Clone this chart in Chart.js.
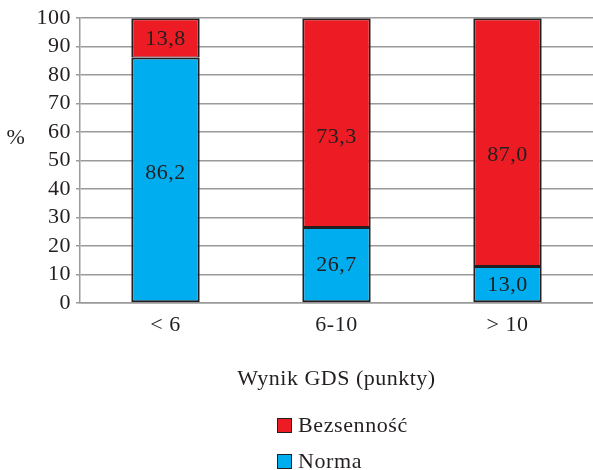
<!DOCTYPE html>
<html>
<head>
<meta charset="utf-8">
<script src="https://cdn.jsdelivr.net/npm/chart.js@4.4.1/dist/chart.umd.min.js"></script>
<style>
  html, body { margin: 0; padding: 0; background: #fff; }
  #wrap { position: relative; width: 593px; height: 470px; }
  #legend { position: absolute; left: 277px; top: 407px; font-family: "Liberation Serif", "DejaVu Serif", serif; font-size: 22px; letter-spacing: 0.6px; color: #231f20; }
  .item { display: flex; align-items: center; height: 36px; }
  .box { width: 13px; height: 13px; border: 1px solid #231f20; margin-right: 6px; }
</style>
</head>
<body>
<div id="wrap">
  <canvas id="c" width="593" height="470"></canvas>
  <div id="legend"></div>
</div>
<script>
const categories = ['< 6', '6-10', '> 10'];
const normaValues = [86.2, 26.7, 13.0];
const bezsennoscValues = [13.8, 73.3, 87.0];
const yTicks = [0, 10, 20, 30, 40, 50, 60, 70, 80, 90, 100];

const FONT = '"Liberation Serif", "DejaVu Serif", serif';
const TEXT = '#231f20';
const RED = '#ed1c24';
const BLUE = '#00aeef';
const SIZE = 22;

// Slightly open letter spacing for all canvas text
const spacing = {
  id: 'spacing',
  beforeLayout(chart) { chart.ctx.letterSpacing = '0.5px'; },
  beforeDraw(chart) { chart.ctx.letterSpacing = '0.5px'; }
};

// Numeric value printed inside each bar segment, decimal comma.
// Placement within the segment: 0 = bottom edge, 1 = top edge.
const valueLabels = {
  id: 'valueLabels',
  afterDatasetsDraw(chart, args, opts) {
    const ctx = chart.ctx;
    ctx.save();
    ctx.font = SIZE + 'px ' + FONT;
    ctx.fillStyle = TEXT;
    ctx.textAlign = 'center';
    ctx.textBaseline = 'middle';
    chart.data.datasets.forEach((ds, i) => {
      chart.getDatasetMeta(i).data.forEach((bar, j) => {
        const p = bar.getProps(['x', 'y', 'base'], true);
        const f = (opts.place[i] && opts.place[i][j] != null) ? opts.place[i][j] : 0.5;
        const y = p.base + (p.y - p.base) * f;
        ctx.fillText(ds.data[j].toFixed(1).replace('.', ','), p.x, y + 1);
      });
    });
    ctx.restore();
  }
};

// "%" unit label to the left of the value axis
const unitLabel = {
  id: 'unitLabel',
  afterDraw(chart) {
    const ctx = chart.ctx;
    const y = chart.scales.y.getPixelForValue(58);
    ctx.save();
    ctx.font = SIZE + 'px ' + FONT;
    ctx.fillStyle = TEXT;
    ctx.textAlign = 'center';
    ctx.textBaseline = 'middle';
    ctx.fillText('%', 16, y);
    ctx.restore();
  }
};

const chart = new Chart(document.getElementById('c'), {
  type: 'bar',
  data: {
    labels: categories,
    datasets: [
      { label: 'Norma', data: normaValues, backgroundColor: BLUE, borderColor: TEXT, borderWidth: 2, borderSkipped: false, categoryPercentage: 0.8, barPercentage: 0.5 },
      { label: 'Bezsenność', data: bezsennoscValues, backgroundColor: RED, borderColor: TEXT, borderWidth: { top: 2, left: 2, right: 2, bottom: 1 }, borderSkipped: false, categoryPercentage: 0.8, barPercentage: 0.5 }
    ]
  },
  options: {
    responsive: false,
    animation: false,
    layout: { padding: { top: 8, right: 0, bottom: 72, left: 0 } },
    plugins: {
      legend: { display: false },
      tooltip: { enabled: false },
      valueLabels: { place: [[0.53, 0.5, 0.5], [0.5, 0.435, 0.45]] }
    },
    scales: {
      x: {
        stacked: true,
        grid: { display: false, drawTicks: false },
        border: { display: true, color: '#9a9a9a', width: 1.5 },
        ticks: { color: TEXT, font: { family: FONT, size: SIZE }, padding: 9 },
        title: { display: true, text: 'Wynik GDS (punkty)', color: TEXT, font: { family: FONT, size: SIZE }, padding: { top: 0, bottom: 6 } },
        afterFit(scale) { scale.height = 95; }
      },
      y: {
        stacked: true,
        min: 0,
        max: 100,
        afterBuildTicks(scale) { scale.ticks = yTicks.map(v => ({ value: v })); },
        grid: { color: '#9a9a9a', lineWidth: 1.5, tickLength: 4, drawTicks: true },
        border: { display: true, color: '#9a9a9a', width: 1.5 },
        ticks: { color: TEXT, font: { family: FONT, size: SIZE }, padding: 5, autoSkip: false },
        afterFit(scale) { scale.width = 80; }
      }
    }
  },
  plugins: [spacing, valueLabels, unitLabel]
});

// Legend listed top to bottom in reverse stacking order
const legend = document.getElementById('legend');
chart.data.datasets.slice().reverse().forEach(ds => {
  const item = document.createElement('div');
  item.className = 'item';
  const box = document.createElement('span');
  box.className = 'box';
  box.style.background = ds.backgroundColor;
  const txt = document.createElement('span');
  txt.textContent = ds.label;
  item.appendChild(box);
  item.appendChild(txt);
  legend.appendChild(item);
});
</script>
</body>
</html>
